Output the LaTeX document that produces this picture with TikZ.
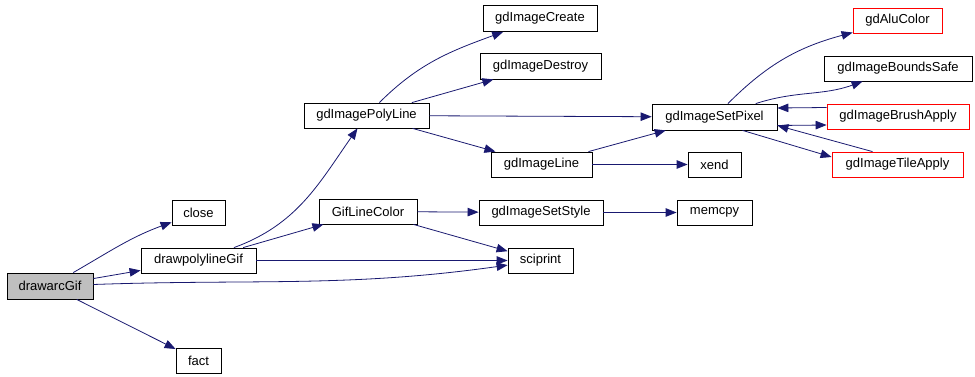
\documentclass[tikz,border=0pt]{standalone}
\usepackage{fontspec}
\setmainfont{Liberation Sans}
\usepackage{tikz}
\usetikzlibrary{arrows.meta}
\definecolor{edgeblue}{RGB}{25, 25, 112}
\definecolor{callergray}{RGB}{191, 191, 191}

\begin{document}
\begin{tikzpicture}[x=1pt, y=-1pt,
    fn/.style={draw, line width=0.8pt, minimum height=25pt, inner sep=0pt,
               font=\fontsize{13}{15}\selectfont},
    ext/.style={fn, draw=red},
    arr/.style={-{Triangle[length=11pt, width=8.5pt]}, edgeblue, line width=0.8pt}
  ]
    \useasboundingbox (0,0) rectangle (975,377);

    % caller and first level
    \node[fn, fill=callergray, minimum width=86pt, minimum height=26pt] (drawarc) at (50, 286) {drawarcGif};
    \node[fn, minimum width=53pt] (close) at (198.5, 212.5) {close};
    \node[fn, minimum width=115pt] (drawpoly) at (198.5, 260.5) {drawpolylineGif};
    \node[fn, minimum width=45pt] (fact) at (198.5, 360.5) {fact};

    % second level
    \node[fn, minimum width=125pt] (polyline) at (366.5, 115.5) {gdImagePolyLine};
    \node[fn, minimum width=98pt] (linecolor) at (368, 211.5) {GifLineColor};

    % third level
    \node[fn, minimum width=114pt, minimum height=26pt] (create) at (540, 18.5) {gdImageCreate};
    \node[fn, minimum width=121pt, minimum height=26pt] (destroy) at (540.5, 66) {gdImageDestroy};
    \node[fn, minimum width=101pt] (line) at (541.5, 164.5) {gdImageLine};
    \node[fn, minimum width=124pt] (setstyle) at (541, 212.5) {gdImageSetStyle};
    \node[fn, minimum width=65pt] (sciprint) at (540.5, 260.5) {sciprint};

    % fourth level
    \node[fn, minimum width=125pt, minimum height=26pt] (setpixel) at (714.5, 117) {gdImageSetPixel};
    \node[fn, minimum width=53pt] (xend) at (714.5, 164.5) {xend};
    \node[fn, minimum width=75pt] (memcpy) at (714.5, 212.5) {memcpy};

    % fifth level
    \node[ext, minimum width=89pt] (alucolor) at (897.5, 20.5) {gdAluColor};
    \node[fn, minimum width=148pt] (boundssafe) at (898, 68.5) {gdImageBoundsSafe};
    \node[ext, minimum width=142pt] (brushapply) at (898, 116.5) {gdImageBrushApply};
    \node[ext, minimum width=131pt] (tileapply) at (897.5, 164.5) {gdImageTileApply};

    % calls
    \draw[arr] (drawarc) to[out=30, in=200] (close);
    \draw[arr] (drawarc) -- (drawpoly);
    \draw[arr] (drawarc) to[out=2, in=188] (sciprint);
    \draw[arr] (drawarc) -- (fact);

    \draw[arr] (drawpoly) to[out=20, in=235] (polyline);
    \draw[arr] (drawpoly) -- (linecolor);
    \draw[arr] (drawpoly) -- (sciprint);

    \draw[arr] (polyline) to[out=45, in=200] (create);
    \draw[arr] (polyline) -- (destroy);
    \draw[arr] (polyline) -- (setpixel);
    \draw[arr] (polyline) -- (line);

    \draw[arr] (linecolor) -- (setstyle);
    \draw[arr] (linecolor) -- (sciprint);
    \draw[arr] (setstyle) -- (memcpy);

    \draw[arr] (line) -- (setpixel);
    \draw[arr] (line) -- (xend);

    \draw[arr] (setpixel) to[out=45, in=195] (alucolor);
    \draw[arr] (setpixel) to[out=18, in=200] (boundssafe);
    \draw[arr] ([yshift=9pt]brushapply.west) -- ([yshift=9pt]setpixel.east);
    \draw[arr] ([yshift=-8.5pt]setpixel.east) -- ([yshift=-8.5pt]brushapply.west);
    \draw[arr] ([xshift=-25pt]tileapply.north) -- ([yshift=-8.5pt]setpixel.east);
    \draw[arr] ([xshift=28pt]setpixel.south) -- ([yshift=7.5pt]tileapply.west);
\end{tikzpicture}
\end{document}
